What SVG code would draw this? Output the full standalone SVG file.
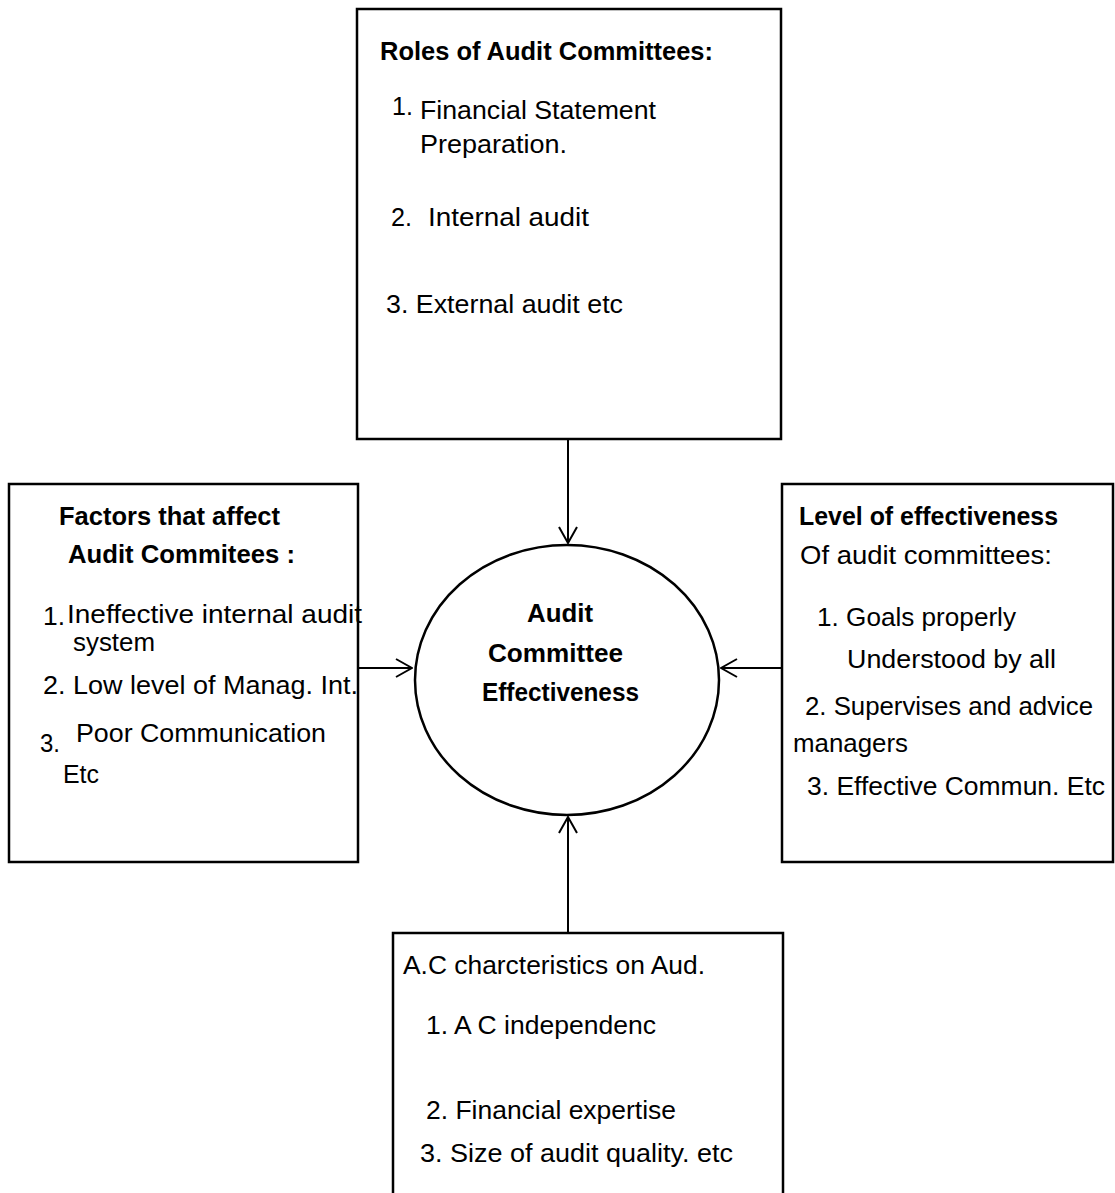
<svg xmlns="http://www.w3.org/2000/svg" width="1115" height="1193" viewBox="0 0 1115 1193">
<style>
.box{fill:#fff;stroke:#000;stroke-width:2.5}
.t{font-family:"Liberation Sans",Arial,sans-serif;font-size:25px;fill:#000}
.b{font-weight:bold}
.c{stroke:#000;stroke-width:2;fill:none}
</style>
<defs>
<marker id="ah" viewBox="0 0 18 20" refX="17" refY="10" markerWidth="18" markerHeight="20" markerUnits="userSpaceOnUse" orient="auto">
<path d="M1,1 L17,10 L1,19" fill="none" stroke="#000" stroke-width="2"/>
</marker>
</defs>
<rect width="1115" height="1193" fill="#fff"/>
<g id="connectors">
<line class="c" x1="568" y1="440" x2="568" y2="543" marker-end="url(#ah)"/>
<line class="c" x1="358" y1="668" x2="412" y2="668" marker-end="url(#ah)"/>
<line class="c" x1="782" y1="668" x2="721" y2="668" marker-end="url(#ah)"/>
<line class="c" x1="568" y1="933" x2="568" y2="817" marker-end="url(#ah)"/>
</g>
<g id="roles">
<rect class="box" x="357" y="9" width="424" height="430"/>
<text class="t b" x="380" y="60" textLength="333" lengthAdjust="spacingAndGlyphs">Roles of Audit Committees:</text>
<text class="t" x="392" y="115" font-size="21">1.</text>
<text class="t" x="420" y="119" textLength="236" lengthAdjust="spacingAndGlyphs">Financial Statement</text>
<text class="t" x="420" y="153" textLength="147" lengthAdjust="spacingAndGlyphs">Preparation.</text>
<text class="t" x="391" y="226" textLength="21" lengthAdjust="spacingAndGlyphs">2.</text>
<text class="t" x="428" y="226" textLength="161" lengthAdjust="spacingAndGlyphs">Internal audit</text>
<text class="t" x="386" y="313" textLength="237" lengthAdjust="spacingAndGlyphs">3. External audit etc</text>
</g>
<g id="factors">
<rect class="box" x="9" y="484" width="349" height="378"/>
<text class="t b" x="59" y="525" textLength="221" lengthAdjust="spacingAndGlyphs">Factors that affect</text>
<text class="t b" x="68" y="563" textLength="227" lengthAdjust="spacingAndGlyphs">Audit Commitees :</text>
<text class="t" x="43" y="625" textLength="22" lengthAdjust="spacingAndGlyphs">1.</text>
<text class="t" x="67" y="623" textLength="295" lengthAdjust="spacingAndGlyphs">Ineffective internal audit</text>
<text class="t" x="73" y="651" textLength="82" lengthAdjust="spacingAndGlyphs">system</text>
<text class="t" x="43" y="694" textLength="315" lengthAdjust="spacingAndGlyphs">2. Low level of Manag. Int.</text>
<text class="t" x="76" y="742" textLength="250" lengthAdjust="spacingAndGlyphs">Poor Communication</text>
<text class="t" x="40" y="752" textLength="20" lengthAdjust="spacingAndGlyphs">3.</text>
<text class="t" x="63" y="783" textLength="36" lengthAdjust="spacingAndGlyphs">Etc</text>
</g>
<g id="level">
<rect class="box" x="782" y="484" width="331" height="378"/>
<text class="t b" x="799" y="525" textLength="259" lengthAdjust="spacingAndGlyphs">Level of effectiveness</text>
<text class="t" x="800" y="564" textLength="252" lengthAdjust="spacingAndGlyphs">Of audit committees:</text>
<text class="t" x="817" y="626" textLength="199" lengthAdjust="spacingAndGlyphs">1. Goals properly</text>
<text class="t" x="847" y="668" textLength="209" lengthAdjust="spacingAndGlyphs">Understood by all</text>
<text class="t" x="805" y="715" textLength="288" lengthAdjust="spacingAndGlyphs">2. Supervises and advice</text>
<text class="t" x="793" y="752" textLength="115" lengthAdjust="spacingAndGlyphs">managers</text>
<text class="t" x="807" y="795" textLength="298" lengthAdjust="spacingAndGlyphs">3. Effective Commun. Etc</text>
</g>
<g id="characteristics">
<rect class="box" x="393" y="933" width="390" height="300"/>
<text class="t" x="403" y="974" textLength="302" lengthAdjust="spacingAndGlyphs">A.C charcteristics on Aud.</text>
<text class="t" x="426" y="1034" textLength="230" lengthAdjust="spacingAndGlyphs">1. A C independenc</text>
<text class="t" x="426" y="1119" textLength="250" lengthAdjust="spacingAndGlyphs">2. Financial expertise</text>
<text class="t" x="420" y="1162" textLength="313" lengthAdjust="spacingAndGlyphs">3. Size of audit quality. etc</text>
</g>
<g id="effectiveness">
<ellipse cx="567" cy="680" rx="152" ry="135" fill="#fff" stroke="#000" stroke-width="2.5"/>
<text class="t b" x="527" y="622" textLength="66" lengthAdjust="spacingAndGlyphs">Audit</text>
<text class="t b" x="488" y="662" textLength="135" lengthAdjust="spacingAndGlyphs">Committee</text>
<text class="t b" x="482" y="701" textLength="157" lengthAdjust="spacingAndGlyphs">Effectiveness</text>
</g>
</svg>
